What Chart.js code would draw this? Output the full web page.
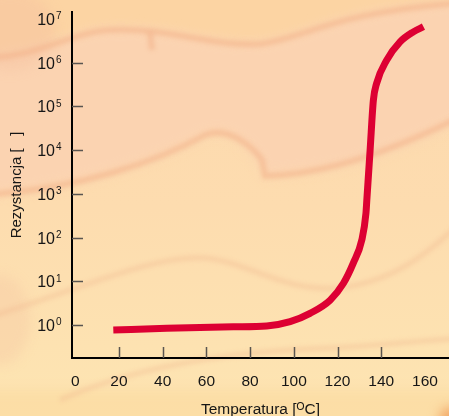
<!DOCTYPE html>
<html>
<head>
<meta charset="utf-8">
<script src="https://cdn.jsdelivr.net/npm/chart.js@4.4.1/dist/chart.umd.min.js"></script>
<style>
  html, body { margin: 0; padding: 0; background: #fde0b0; }
  #chart { display: block; }
</style>
</head>
<body>
<canvas id="chart" width="449" height="416"></canvas>
<script>
// Temperature (°C) and resistance
const temperatures = [17.4, 41.8, 72.3, 87.6, 98.3, 107.4, 116.6, 122.7, 127.2, 131.1, 133.0, 133.4, 134.9, 136.4, 137.9, 142.5, 148.6, 154.7, 159.3];
const resistances = [0.77, 0.84, 0.91, 0.95, 1.19, 1.85, 3.7, 9.0, 26, 88, 360, 725, 1.0e4, 1.4e5, 3.4e5, 1.15e6, 3.0e6, 5.1e6, 6.7e6];

// Tick labels and tick marks
const xTickValues = [0, 20, 40, 60, 80, 100, 120, 140, 160];
const xTickMarks = [20, 40, 60, 80, 100, 120, 140];
const yExponents = [0, 1, 2, 3, 4, 5, 6, 7];
const yTickMarks = [0, 1, 2, 3, 4, 5, 6];

const FONT = '"Liberation Sans", Arial, Helvetica, sans-serif';

// Peach paper texture behind the chart
const paperBackground = {
    id: 'paperBackground',
    beforeDraw(chart) {
        const { ctx, width, height } = chart;
        ctx.save();
        const base = ctx.createLinearGradient(0, 0, 0, height);
        base.addColorStop(0, '#fcd8ae');
        base.addColorStop(0.5, '#fddcaf');
        base.addColorStop(1, '#fde5b2');
        ctx.fillStyle = base;
        ctx.fillRect(0, 0, width, height);

        ctx.filter = 'blur(6px)';

        // orange top strip
        ctx.fillStyle = '#fcd4a3';
        ctx.beginPath();
        ctx.moveTo(-20, -20);
        ctx.lineTo(470, -20);
        ctx.lineTo(470, 0);
        ctx.bezierCurveTo(330, 10, 310, 35, 260, 42);
        ctx.bezierCurveTo(210, 45, 170, 25, 110, 28);
        ctx.bezierCurveTo(70, 30, 40, 55, -20, 55);
        ctx.closePath();
        ctx.fill();

        // pinkish band between the upper streaks
        ctx.fillStyle = '#fbd3b1';
        ctx.beginPath();
        ctx.moveTo(-20, 55);
        ctx.bezierCurveTo(40, 55, 70, 30, 110, 28);
        ctx.bezierCurveTo(170, 25, 210, 45, 260, 42);
        ctx.bezierCurveTo(310, 35, 330, 10, 470, 0);
        ctx.lineTo(470, 115);
        ctx.bezierCurveTo(420, 140, 360, 168, 300, 172);
        ctx.lineTo(265, 176);
        ctx.bezierCurveTo(255, 150, 230, 125, 205, 135);
        ctx.bezierCurveTo(160, 160, 80, 190, -20, 195);
        ctx.closePath();
        ctx.fill();

        // pink patches along the left edge
        ctx.fillStyle = 'rgba(246, 192, 160, 0.45)';
        ctx.beginPath();
        ctx.ellipse(10, 30, 45, 40, 0, 0, Math.PI * 2);
        ctx.fill();
        ctx.fillStyle = 'rgba(246, 192, 160, 0.3)';
        ctx.beginPath();
        ctx.ellipse(0, 320, 30, 45, 0, 0, Math.PI * 2);
        ctx.fill();

        // yellow bottom strip and orange corner
        ctx.fillStyle = 'rgba(251, 216, 158, 0.6)';
        ctx.fillRect(-20, 390, 490, 60);
        ctx.fillStyle = '#f2a868';
        ctx.beginPath();
        ctx.arc(452, 420, 13, 0, Math.PI * 2);
        ctx.fill();

        // darker streak edges
        ctx.filter = 'blur(2px)';
        ctx.strokeStyle = 'rgba(242, 176, 136, 0.55)';
        ctx.lineWidth = 6;
        ctx.beginPath();
        ctx.moveTo(-20, 58);
        ctx.bezierCurveTo(40, 58, 70, 32, 110, 30);
        ctx.bezierCurveTo(170, 27, 210, 47, 260, 44);
        ctx.bezierCurveTo(310, 37, 330, 12, 470, 2);
        ctx.stroke();
        ctx.beginPath();
        ctx.moveTo(150, 32);
        ctx.lineTo(152, 50);
        ctx.stroke();

        ctx.beginPath();
        ctx.moveTo(-20, 195);
        ctx.bezierCurveTo(80, 190, 160, 160, 205, 135);
        ctx.bezierCurveTo(230, 125, 255, 150, 262, 160);
        ctx.lineTo(265, 176);
        ctx.bezierCurveTo(300, 175, 360, 168, 470, 112);
        ctx.stroke();

        ctx.strokeStyle = 'rgba(242, 180, 140, 0.35)';
        ctx.lineWidth = 5;
        ctx.beginPath();
        ctx.moveTo(-20, 320);
        ctx.bezierCurveTo(80, 290, 150, 255, 205, 258);
        ctx.bezierCurveTo(250, 262, 280, 292, 340, 288);
        ctx.bezierCurveTo(400, 280, 430, 250, 470, 215);
        ctx.stroke();

        ctx.beginPath();
        ctx.moveTo(60, 400);
        ctx.bezierCurveTo(150, 360, 260, 350, 330, 348);
        ctx.bezierCurveTo(380, 346, 420, 340, 470, 338);
        ctx.stroke();

        ctx.restore();
    }
};

// Inward tick marks and 10^n labels on the y axis
const axisDecorations = {
    id: 'axisDecorations',
    afterDraw(chart) {
        const { ctx, chartArea } = chart;
        const x = chart.scales.x;
        const y = chart.scales.y;
        ctx.save();
        ctx.strokeStyle = '#5a5550';
        ctx.lineWidth = 1.5;
        ctx.beginPath();
        xTickMarks.forEach(v => {
            const px = Math.round(x.getPixelForValue(v)) + 0.5;
            ctx.moveTo(px, chartArea.bottom);
            ctx.lineTo(px, chartArea.bottom - 11);
        });
        yTickMarks.forEach(e => {
            const py = Math.round(y.getPixelForValue(Math.pow(10, e))) + 0.5;
            ctx.moveTo(chartArea.left, py);
            ctx.lineTo(chartArea.left + 11, py);
        });
        ctx.stroke();

        ctx.fillStyle = '#161616';
        ctx.textBaseline = 'middle';
        yExponents.forEach(e => {
            const py = y.getPixelForValue(Math.pow(10, e));
            ctx.font = '16px ' + FONT;
            ctx.textAlign = 'right';
            ctx.fillText('10', 55, py + 1.5);
            ctx.font = '10px ' + FONT;
            ctx.textAlign = 'left';
            ctx.fillText(String(e), 56, py - 2.5);
        });
        ctx.restore();
    }
};

const ctx = document.getElementById('chart').getContext('2d');
new Chart(ctx, {
    type: 'line',
    data: {
        datasets: [{
            data: temperatures.map((t, i) => ({ x: t, y: resistances[i] })),
            borderColor: '#dd0033',
            borderWidth: 7,
            borderCapStyle: 'butt',
            borderJoinStyle: 'round',
            pointRadius: 0,
            cubicInterpolationMode: 'monotone',
            fill: false
        }]
    },
    options: {
        responsive: false,
        animation: false,
        layout: { padding: { top: 12, right: 0, left: 0, bottom: 0 } },
        plugins: {
            legend: { display: false },
            tooltip: { enabled: false }
        },
        scales: {
            x: {
                type: 'linear',
                min: -1.5,
                max: 171,
                afterBuildTicks: scale => {
                    scale.ticks = xTickValues.map(v => ({ value: v }));
                },
                afterFit: scale => {
                    scale.height = 58;
                    scale.paddingLeft = 0;
                    scale.paddingRight = 0;
                },
                grid: { display: false, drawTicks: false },
                border: { display: true, color: '#000', width: 2 },
                ticks: {
                    padding: 14,
                    color: '#161616',
                    maxRotation: 0,
                    autoSkip: false,
                    font: { family: FONT, size: 15.5 }
                },
                title: {
                    display: true,
                    text: 'Temperatura [ᴼC]',
                    color: '#161616',
                    font: { family: FONT, size: 15.5 },
                    padding: { top: 0, bottom: -3 }
                }
            },
            y: {
                type: 'logarithmic',
                min: 0.176,
                max: 1.45e7,
                afterFit: scale => { scale.width = 72; },
                grid: { display: false, drawTicks: false },
                border: { display: true, color: '#000', width: 2 },
                ticks: { display: false },
                title: {
                    display: true,
                    text: 'Rezystancja [   ]',
                    color: '#161616',
                    font: { family: FONT, size: 15 },
                    padding: { top: 8, bottom: 0 }
                }
            }
        }
    },
    plugins: [paperBackground, axisDecorations]
});
</script>
</body>
</html>
